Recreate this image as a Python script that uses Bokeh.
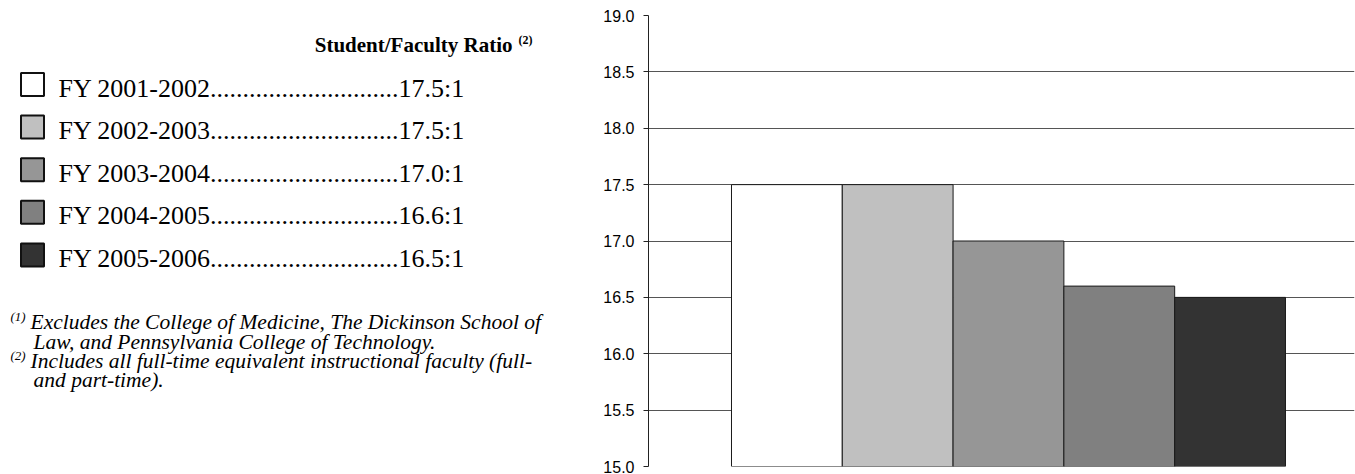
from bokeh.plotting import figure
from bokeh.layouts import row
from bokeh.models import Range1d, FixedTicker, NumeralTickFormatter, ColumnDataSource
from bokeh.core.properties import value
from bokeh.embed import file_html
from bokeh.resources import INLINE

# ---- data ----
periods = ["FY 2001-2002", "FY 2002-2003", "FY 2003-2004", "FY 2004-2005", "FY 2005-2006"]
ratios = [17.5, 17.5, 17.0, 16.6, 16.5]
ratio_labels = ["17.5:1", "17.5:1", "17.0:1", "16.6:1", "16.5:1"]
colors = ["#FFFFFF", "#C0C0C0", "#969696", "#808080", "#333333"]
y_ticks = [15.0, 15.5, 16.0, 16.5, 17.0, 17.5, 18.0, 18.5, 19.0]
panel_title = "Student/Faculty Ratio"
panel_title_note = "(2)"
footnote_marks = ["(1)", "(2)"]
footnote_lines = [
    "Excludes the College of Medicine, The Dickinson School of",
    "Law, and Pennsylvania College of Technology.",
    "Includes all full-time equivalent instructional faculty (full-",
    "and part-time).",
]

SERIF = value("Liberation Serif")
SANS = "Liberation Sans"

# ---- left panel: legend with values and footnotes (pixel-like coordinates) ----
LW, LH = 560, 474
TOP, BOTTOM = 15, 8
left = figure(width=LW, height=LH, x_range=Range1d(0, LW), y_range=Range1d(LH - BOTTOM, TOP),
              x_axis_location=None, y_axis_location=None, output_backend="svg",
              toolbar_location=None, min_border_left=0, min_border_right=0,
              min_border_top=TOP, min_border_bottom=BOTTOM)
left.grid.visible = False
left.outline_line_color = None
left.background_fill_color = "white"

left.text(x=[512], y=[44.5], text=[panel_title], text_font=SERIF, text_font_size="21px",
          text_font_style="bold", text_align="right", text_baseline="middle", text_color="black")
left.text(x=[518], y=[39], text=[panel_title_note], text_font=SERIF, text_font_size="12px",
          text_font_style="bold", text_align="left", text_baseline="middle", text_color="black")

row_y = [84 + i * 42.6 for i in range(len(periods))]
left.rect(x=[32] * len(periods), y=row_y, width=23, height=23, fill_color=colors,
          line_color="#111111", line_width=2)
row_text = [f"{p}{'.' * 29}{r}" for p, r in zip(periods, ratio_labels)]
left.text(x=[58] * len(periods), y=[yy + 3.5 for yy in row_y], text=row_text, text_font=SERIF,
          text_font_size="26px", text_align="left", text_baseline="middle", text_color="black")

fn_src = ColumnDataSource(dict(x=[30, 33, 30, 33], y=[321, 341, 360, 379], t=footnote_lines))
left.text(x="x", y="y", text="t", source=fn_src, text_font=SERIF, text_font_size="21.5px",
          text_font_style="italic", text_align="left", text_baseline="middle", text_color="black")
left.text(x=[10, 10], y=[316, 355], text=footnote_marks, text_font=SERIF, text_font_size="13px",
          text_font_style="italic", text_align="left", text_baseline="middle", text_color="black")

# ---- right panel: bar chart ----
p = figure(width=795, height=LH, x_range=Range1d(-1.249, 5.123), y_range=Range1d(15, 19),
           x_axis_location=None, output_backend="svg", toolbar_location=None,
           min_border_left=88, min_border_right=1, min_border_top=TOP, min_border_bottom=BOTTOM)
p.outline_line_color = None
p.xgrid.visible = False
p.ygrid.ticker = FixedTicker(ticks=y_ticks)
p.ygrid.grid_line_color = "#555555"
p.ygrid.grid_line_width = 1

src = ColumnDataSource(dict(x=list(range(len(ratios))), top=ratios, color=colors))
p.vbar(x="x", top="top", bottom=15, width=1.0, source=src, fill_color="color",
       line_color="#1a1a1a", line_width=1)

ax = p.yaxis[0]
ax.ticker = FixedTicker(ticks=y_ticks)
ax.formatter = NumeralTickFormatter(format="0.0")
ax.major_label_text_font = SANS
ax.major_label_text_font_size = "16px"
ax.major_label_text_color = "black"
ax.major_label_standoff = 9
ax.major_tick_out = 5
ax.major_tick_in = 0
ax.minor_tick_out = 0
ax.minor_tick_in = 0
ax.axis_line_color = "#222222"
ax.major_tick_line_color = "#222222"

layout = row(left, p, spacing=0)
open("out.html", "w").write(file_html(layout, INLINE))
